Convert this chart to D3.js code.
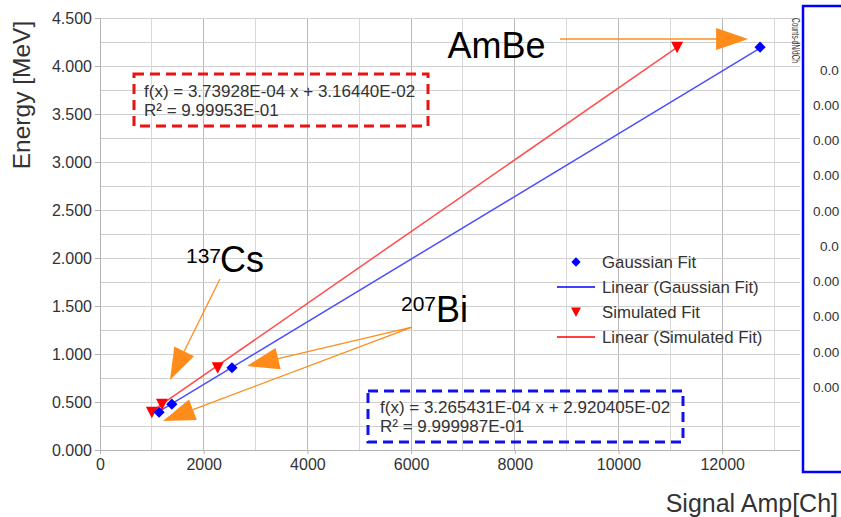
<!DOCTYPE html>
<html>
<head>
<meta charset="utf-8">
<script src="https://cdn.jsdelivr.net/npm/d3@7"></script>
<style>
  html, body { margin: 0; padding: 0; background: #fff; }
  svg { display: block; font-family: "Liberation Sans", Arial, sans-serif; }
</style>
</head>
<body>
<svg id="chart" width="841" height="517"></svg>
<script>
// ---------- data ----------
const energies      = [0.393, 0.477, 0.857, 4.196];          // MeV (Bi, Cs, Bi, AmBe)
const gaussX        = [1140, 1385, 2545, 12730];              // Gaussian Fit, channel
const simX          = [1000, 1195, 2270, 11130];              // Simulated Fit, channel
const gaussFit      = { slope: 3.265431e-4, intercept: 2.920405e-2 };
const simFit        = { slope: 3.73928e-4,  intercept: 3.16440e-2 };
const gaussEqText   = ["f(x) = 3.265431E-04 x + 2.920405E-02", "R\u00B2 = 9.999987E-01"];
const simEqText     = ["f(x) = 3.73928E-04 x + 3.16440E-02", "R\u00B2 = 9.99953E-01"];
const xTickValues   = [0, 2000, 4000, 6000, 8000, 10000, 12000];
const yTickValues   = [0, 0.5, 1.0, 1.5, 2.0, 2.5, 3.0, 3.5, 4.0, 4.5];
const legendLabels  = ["Gaussian Fit", "Linear (Gaussian Fit)", "Simulated Fit", "Linear (Simulated Fit)"];
// neighbouring panel: only the visible (cropped) part of its tick labels
const sideTickValues  = [0.002, 0.0018, 0.0016, 0.0014, 0.0012, 0.001, 0.0008, 0.0006, 0.0004, 0.0002];
const sideTickVisible = ["0.0", "0.00", "0.00", "0.00", "0.00", "0.0", "0.00", "0.00", "0.00", "0.00"];
const sideTitle       = "Counts-dN/dCh";
// annotations: arrows in data units [x0, y0, x1, y1]
const arrowsAmBe = [[8870, 4.281, 12500, 4.281]];
const arrowsCs   = [[2314, 1.781, 1350, 0.729]];
const arrowsBi   = [[6017, 1.281, 2835, 0.875], [6017, 1.281, 1215, 0.302]];

// ---------- layout ----------
const svg = d3.select("#chart");
const L = 100, R = 800, T = 18, B = 450;
const x = d3.scaleLinear().domain([0, 13500]).range([L, R]);
const y = d3.scaleLinear().domain([0, 4.5]).range([B, T]);

const BLUE = "#0000ff", RED = "#ff0000", ORANGE = "#ff8c1a", TXT = "#333333";

// grid
const g = svg.append("g");
d3.range(0, 13001, 1000).forEach(v => {
  g.append("line").attr("x1", x(v)).attr("x2", x(v)).attr("y1", T).attr("y2", B)
    .attr("stroke", v % 2000 === 0 ? "#b8b8b8" : "#d8d8d8").attr("stroke-width", 1)
    .attr("shape-rendering", "crispEdges");
});
d3.range(0, 4.51, 0.25).forEach(v => {
  g.append("line").attr("x1", L).attr("x2", R).attr("y1", y(v)).attr("y2", y(v))
    .attr("stroke", "#d0d0d0").attr("stroke-width", 1).attr("shape-rendering", "crispEdges");
});

// axes
const xAxis = d3.axisBottom(x).tickValues(xTickValues).tickFormat(d3.format("d")).tickSize(4).tickPadding(5);
const yAxis = d3.axisLeft(y).tickValues(yTickValues).tickFormat(d3.format(".3f")).tickSize(5).tickPadding(3);
const gx = svg.append("g").attr("transform", `translate(0,${B})`).call(xAxis);
const gy = svg.append("g").attr("transform", `translate(${L},0)`).call(yAxis);
[gx, gy].forEach(a => {
  a.select(".domain").attr("stroke", "#b3b3b3");
  a.selectAll(".tick line").attr("stroke", "#b3b3b3");
  a.selectAll(".tick text").attr("fill", TXT).style("font-size", "16px")
    .style("font-family", "'Liberation Sans', Arial, sans-serif");
});
gx.select(".domain").attr("d", `M${L},0.5H${R}`);

// titles
svg.append("text").attr("transform", "translate(30,95) rotate(-90)")
  .attr("text-anchor", "middle").attr("fill", TXT).style("font-size", "24.5px").text("Energy [MeV]");
svg.append("text").attr("x", 838).attr("y", 512).attr("text-anchor", "end")
  .attr("fill", TXT).style("font-size", "25px").text("Signal Amp[Ch]");

// fit lines
function fitLine(xs, fit, color) {
  const x0 = d3.min(xs), x1 = d3.max(xs);
  svg.append("line")
    .attr("x1", x(x0)).attr("y1", y(fit.slope * x0 + fit.intercept))
    .attr("x2", x(x1)).attr("y2", y(fit.slope * x1 + fit.intercept))
    .attr("stroke", color).attr("stroke-width", 1.5);
}
fitLine(gaussX, gaussFit, "#4d4dff");
fitLine(simX, simFit, "#ff4d4d");

// markers
const diamond = d3.symbol().type(d3.symbolDiamond2).size(80);
const triDown = (cx, cy, w) => `M${cx - w / 2},${cy - w * 0.45}L${cx + w / 2},${cy - w * 0.45}L${cx},${cy + w * 0.5}Z`;
svg.append("g").selectAll("path").data(simX.map((v, i) => [v, energies[i]])).join("path")
  .attr("d", d => triDown(x(d[0]), y(d[1]), 12)).attr("fill", RED);
svg.append("g").selectAll("path").data(gaussX.map((v, i) => [v, energies[i]])).join("path")
  .attr("transform", d => `translate(${x(d[0])},${y(d[1])})`).attr("d", diamond).attr("fill", BLUE);

// legend
const lg = svg.append("g");
const lgX = 602, lgY = [262, 287, 312, 337];
lg.append("path").attr("transform", `translate(576,${lgY[0]})`).attr("d", d3.symbol().type(d3.symbolDiamond2).size(55)).attr("fill", BLUE);
lg.append("line").attr("x1", 557).attr("x2", 595).attr("y1", lgY[1]).attr("y2", lgY[1]).attr("stroke", BLUE).attr("stroke-width", 1.5);
lg.append("path").attr("d", triDown(576, lgY[2], 10)).attr("fill", RED);
lg.append("line").attr("x1", 557).attr("x2", 595).attr("y1", lgY[3]).attr("y2", lgY[3]).attr("stroke", RED).attr("stroke-width", 1.5);
legendLabels.forEach((t, i) => {
  lg.append("text").attr("x", lgX).attr("y", lgY[i] + 6).attr("fill", TXT).style("font-size", "16.8px").text(t);
});

// equation boxes
function eqBox(x0, y0, x1, y1, color, lines, tx, ty) {
  svg.append("rect").attr("x", x0).attr("y", y0).attr("width", x1 - x0).attr("height", y1 - y0)
    .attr("fill", "none").attr("stroke", color).attr("stroke-width", 3).attr("stroke-dasharray", "10,6");
  lines.forEach((t, i) => {
    svg.append("text").attr("x", tx).attr("y", ty[i]).attr("fill", TXT).style("font-size", "17px").text(t);
  });
}
eqBox(134, 74, 428, 126, "#ee1111", simEqText, 144, [97, 116]);
eqBox(368, 391, 683, 442, "#1111ee", gaussEqText, 380, [413, 432]);

// arrows
function arrow(a) {
  const [x0, y0, x1, y1] = a;
  const px0 = x(x0), py0 = y(y0), px1 = x(x1), py1 = y(y1);
  const ang = Math.atan2(py1 - py0, px1 - px0);
  const len = 32, hw = 11;
  const bx = px1 - len * Math.cos(ang), by = py1 - len * Math.sin(ang);
  svg.append("line").attr("x1", px0).attr("y1", py0).attr("x2", bx).attr("y2", by)
    .attr("stroke", ORANGE).attr("stroke-width", 1.3);
  const nx = -Math.sin(ang), ny = Math.cos(ang);
  svg.append("path")
    .attr("d", `M${px1},${py1}L${bx + nx * hw},${by + ny * hw}L${bx - nx * hw},${by - ny * hw}Z`)
    .attr("fill", ORANGE);
}
[...arrowsAmBe, ...arrowsCs, ...arrowsBi].forEach(arrow);

// annotation labels
svg.append("text").attr("x", x(6700)).attr("y", y(4.083)).attr("fill", "#000").style("font-size", "36px").text("AmBe");
svg.append("text").attr("x", 186).attr("y", 263).attr("fill", "#000").style("font-size", "21px").text("137");
svg.append("text").attr("x", 220).attr("y", 272).attr("fill", "#000").style("font-size", "36px").text("Cs");
svg.append("text").attr("x", 401).attr("y", 311).attr("fill", "#000").style("font-size", "21px").text("207");
svg.append("text").attr("x", 436).attr("y", 322).attr("fill", "#000").style("font-size", "36px").text("Bi");

// right-side panel (cropped neighbour chart)
svg.append("rect").attr("x", 803).attr("y", 6).attr("width", 80).attr("height", 466)
  .attr("fill", "#fff").attr("stroke", BLUE).attr("stroke-width", 2.5);
const sideY = d3.scaleLinear().domain([0.002, 0.0002]).range([70, 387]);
svg.append("g").selectAll("text").data(sideTickValues).join("text")
  .attr("x", (d, i) => sideTickVisible[i].length === 3 ? 820 : 813)
  .attr("y", d => sideY(d) + 4.8)
  .attr("fill", TXT).style("font-size", "13.5px").text((d, i) => sideTickVisible[i]);
svg.append("text").attr("transform", "translate(792,18) rotate(90)")
  .attr("fill", TXT).style("font-size", "10.5px")
  .attr("textLength", 45).attr("lengthAdjust", "spacingAndGlyphs").text(sideTitle);
</script>
</body>
</html>
